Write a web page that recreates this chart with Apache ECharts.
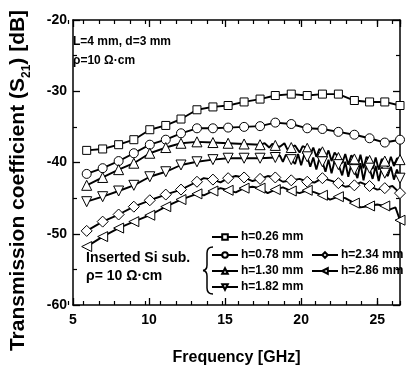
<!DOCTYPE html>
<html>
<head>
<meta charset="utf-8">
<script src="https://cdn.jsdelivr.net/npm/echarts@6/dist/echarts.min.js"></script>
<style>html,body{margin:0;padding:0;background:#fff}#c{width:407px;height:371px}</style>
</head>
<body>
<div id="c"></div>
<script>
// marker frequencies (GHz)
const freqs = [5.9, 6.95, 8.0, 9.0, 10.05, 11.1, 12.1, 13.15, 14.2, 15.2, 16.25, 17.3, 18.3, 19.35, 20.4, 21.4, 22.45, 23.5, 24.5, 25.5, 26.5];
const seriesNames = ['h=0.26 mm', 'h=0.78 mm', 'h=1.30 mm', 'h=1.82 mm', 'h=2.34 mm', 'h=2.86 mm'];
// S21 [dB] at marker frequencies
const h026 = [-38.3,-38.1,-37.5,-36.8,-35.4,-34.8,-33.9,-32.6,-32.2,-32.0,-31.5,-31.1,-30.6,-30.4,-30.6,-30.4,-30.4,-31.3,-31.5,-31.5,-32.0];
const h078 = [-41.6,-40.8,-39.8,-38.7,-37.5,-36.8,-35.9,-35.2,-35.2,-35.1,-35.0,-34.9,-34.4,-34.6,-35.2,-35.3,-35.7,-36.1,-36.6,-37.2,-36.8];
const h130 = [-43.2,-42.1,-41.0,-40.1,-38.7,-37.9,-37.3,-37.1,-37.2,-37.3,-37.4,-37.5,-37.6,-37.9,-38.0,-38.5,-39.3,-39.5,-39.7,-39.8,-39.6];
const h182 = [-45.5,-44.8,-44.0,-43.2,-42.0,-41.3,-40.35,-39.9,-39.6,-39.4,-39.4,-39.4,-39.3,-39.6,-39.2,-39.9,-40.3,-41.0,-40.8,-41.5,-42.2];
const h234 = [-49.6,-48.3,-47.3,-46.2,-45.3,-44.5,-43.8,-42.7,-42.4,-42.2,-42.1,-42.3,-42.1,-42.5,-42.7,-42.2,-42.9,-43.2,-43.3,-43.6,-44.3];
const h286 = [-51.8,-50.4,-49.2,-48.3,-47.4,-46.2,-45.2,-44.4,-44.0,-43.9,-43.6,-43.6,-43.8,-44.0,-43.9,-44.6,-44.8,-45.7,-46.1,-46.1,-48.1];
// measured ripple between markers [GHz, dB]
const r130 = [[17.6,-37.3],[17.9,-37.9],[18.1,-37.4],[18.6,-37.8],[18.9,-37.3],[19.1,-38.2],[19.6,-37.6],[19.9,-38.6],[20.1,-37.7],[20.6,-38.9],[20.8,-37.9],[21.0,-39.2],[21.2,-38.1],[21.6,-39.4],[21.8,-38.3],[22.0,-39.8],[22.2,-38.6],[22.7,-40.1],[22.9,-38.8],[23.1,-40.3],[23.3,-39.0],[23.7,-40.6],[23.9,-38.9],[24.1,-40.8],[24.3,-39.2],[24.7,-40.9],[24.9,-39.3],[25.1,-41.0],[25.3,-39.5],[25.7,-40.6],[25.9,-39.2],[26.1,-40.5],[26.3,-39.4]];
const r182 = [[18.6,-39.0],[18.8,-39.9],[19.0,-38.9],[19.6,-40.2],[19.8,-38.8],[20.0,-40.4],[20.2,-38.9],[20.6,-40.6],[20.8,-39.3],[21.0,-41.0],[21.2,-39.4],[21.6,-41.3],[21.8,-39.6],[22.0,-41.5],[22.2,-39.8],[22.7,-41.8],[22.9,-39.9],[23.1,-42.0],[23.3,-40.2],[23.7,-42.2],[23.9,-40.1],[24.1,-42.5],[24.3,-40.4],[24.7,-42.3],[24.9,-40.5],[25.1,-42.6],[25.3,-40.7],[25.7,-41.9],[25.9,-40.6],[26.1,-42.4],[26.3,-41.0]];
const r234 = [[13.6,-42.2],[14.7,-42.8],[15.7,-41.9],[16.8,-42.6],[17.8,-41.9],[18.8,-42.7],[19.9,-42.3],[20.9,-42.8],[21.9,-42.5],[22.9,-43.4],[23.9,-42.8],[25.0,-43.8],[26.0,-43.3]];
const r286 = [[13.6,-44.6],[14.7,-43.6],[15.7,-44.2],[16.8,-43.4],[17.8,-44.3],[18.8,-43.5],[19.9,-44.3],[20.9,-44.2],[21.9,-45.2],[22.9,-45.0],[23.9,-46.3],[25.0,-45.9],[25.8,-46.6],[26.2,-46.3]];
const xTicks = [5, 10, 15, 20, 25];
const yTicks = [-60, -50, -40, -30, -20];

const FONT = 'Liberation Sans, Arial, sans-serif';
const markerSet = new Set(freqs);
function build(vals, ripple) {
  const pts = freqs.map((f, i) => [f, vals[i]]).concat(ripple || []);
  pts.sort((a, b) => a[0] - b[0]);
  return pts;
}
const specs = [
  {v: h026, r: null, sym: 'rect', size: 8, rot: 0},
  {v: h078, r: null, sym: 'circle', size: 9, rot: 0},
  {v: h130, r: r130, sym: 'triangle', size: 10, rot: 0},
  {v: h182, r: r182, sym: 'triangle', size: 10, rot: 180},
  {v: h234, r: r234, sym: 'diamond', size: 11, rot: 0},
  {v: h286, r: r286, sym: 'triangle', size: 10, rot: 90}
];
const series = specs.map((s, i) => ({
  name: seriesNames[i],
  type: 'line',
  data: build(s.v, s.r),
  symbol: s.sym,
  symbolRotate: s.rot,
  symbolSize: (val) => markerSet.has(val[0]) ? s.size : 0,
  showAllSymbol: true,
  xAxisIndex: 0, yAxisIndex: 0,
  lineStyle: {color: '#000', width: 1.9},
  itemStyle: {color: '#fff', borderColor: '#000', borderWidth: 1},
  emphasis: {disabled: true},
  animation: false,
  z: 3 + i
}));

const axisLine = {show: true, lineStyle: {color: '#000', width: 1.5}};
const noLine = {show: false};
const majorTick = {inside: true, length: 7, lineStyle: {color: '#000', width: 1.3}};
const minorTickX = {inside: true, length: 4, lineStyle: {color: '#000', width: 1.2}};
const xMin = xTicks[0], xMax = 26.5;
const yMin = yTicks[0], yMax = yTicks[yTicks.length - 1];
const gridBox = {left: 68, top: 20, right: 7, bottom: 66, show: false};
const txt = (t, x, y, size) => ({type: 'text', x: x, y: y, style: {text: t, fill: '#000', fontFamily: FONT, fontWeight: 'bold', fontSize: size}});
const seg = (x1, y1, x2, y2) => ({type: 'line', shape: {x1, y1, x2, y2}, style: {stroke: '#000', lineWidth: 1.5}});
const bez = (x1, y1, cx, cy, x2, y2) => ({type: 'bezierCurve', shape: {x1, y1, x2, y2, cpx1: cx, cpy1: cy}, style: {stroke: '#000', lineWidth: 1.5, fill: null}});
const legendText = {color: '#000', fontFamily: FONT, fontWeight: 'bold', fontSize: 12, padding: [0, 0, 0, -2]};
const option = {
  animation: false,
  grid: [Object.assign({}, gridBox), Object.assign({}, gridBox)],
  xAxis: [
    {gridIndex: 0, type: 'value', position: 'bottom', min: xMin, max: xMax, interval: 5,
     axisLine, axisTick: majorTick,
     axisLabel: {showMaxLabel: false, color: '#000', fontFamily: FONT, fontWeight: 'bold', fontSize: 14, margin: 8},
     splitLine: {show: false},
     name: 'Frequency [GHz]', nameLocation: 'middle', nameGap: 45,
     nameTextStyle: {color: '#000', fontFamily: FONT, fontWeight: 'bold', fontSize: 16}},
    {gridIndex: 0, type: 'value', position: 'top', min: xMin, max: xMax, interval: 5,
     axisLine, axisTick: majorTick, axisLabel: {show: false}, splitLine: {show: false}},
    {gridIndex: 1, type: 'value', position: 'bottom', min: xMin, max: xMax, interval: 1,
     axisLine: noLine, axisTick: minorTickX, axisLabel: {show: false}, splitLine: {show: false}},
    {gridIndex: 1, type: 'value', position: 'top', min: xMin, max: xMax, interval: 1,
     axisLine: noLine, axisTick: minorTickX, axisLabel: {show: false}, splitLine: {show: false}}
  ],
  yAxis: [
    {gridIndex: 0, type: 'value', position: 'left', min: yMin, max: yMax, interval: 10,
     axisLine, axisTick: majorTick,
     minorTick: {show: true, splitNumber: 2, length: 4, lineStyle: {color: '#000', width: 1.2}},
     axisLabel: {color: '#000', fontFamily: FONT, fontWeight: 'bold', fontSize: 14, margin: 6},
     splitLine: {show: false},
     name: '{t|Transmission coefficient (S}{s|21}{t|) [dB]}', nameLocation: 'middle', nameGap: 44,
     nameTextStyle: {padding: [0, 36, 0, 0], rich: {
       t: {color: '#000', fontFamily: FONT, fontWeight: 'bold', fontSize: 21, verticalAlign: 'bottom', lineHeight: 25},
       s: {color: '#000', fontFamily: FONT, fontWeight: 'bold', fontSize: 12, verticalAlign: 'bottom', lineHeight: 25, padding: [0, 0, -4, 0]}
     }}},
    {gridIndex: 0, type: 'value', position: 'right', min: yMin, max: yMax, interval: 10,
     axisLine, axisTick: majorTick,
     minorTick: {show: true, splitNumber: 2, length: 4, lineStyle: {color: '#000', width: 1.2}},
     axisLabel: {show: false}, splitLine: {show: false}},
    {gridIndex: 1, type: 'value', position: 'left', min: yMin, max: yMax, show: false,
     axisLine: noLine, axisTick: {show: false}, axisLabel: {show: false}}
  ],
  legend: [
    {data: [seriesNames[0]], left: 211, top: 231, padding: 0, itemWidth: 26, itemHeight: 7, itemGap: 4,
     textStyle: legendText, selectedMode: false},
    {data: [seriesNames[1], seriesNames[2], seriesNames[3]], orient: 'vertical', left: 211, top: 249, padding: 0,
     itemWidth: 26, itemHeight: 7, itemGap: 4, textStyle: legendText, selectedMode: false},
    {data: [seriesNames[4], seriesNames[5]], orient: 'vertical', left: 311, top: 249, padding: 0,
     itemWidth: 26, itemHeight: 7, itemGap: 4, textStyle: legendText, selectedMode: false}
  ],
  graphic: [
    txt('L=4 mm, d=3 mm', 73, 36, 12),
    txt('ρ=10 Ω·cm', 73, 55, 12),
    txt('Inserted Si sub.', 86, 251, 14),
    txt('ρ= 10 Ω·cm', 86, 269, 14),
    bez(213, 247, 207, 247, 207, 253),
    seg(207, 253, 207, 265),
    bez(207, 265, 207, 270, 203, 270.5),
    bez(203, 270.5, 207, 271, 207, 276),
    seg(207, 276, 207, 288),
    bez(207, 288, 207, 294, 213, 294)
  ],
  series
};
const chart = echarts.init(document.getElementById('c'), null, {renderer: 'canvas'});
chart.setOption(option);
</script>
</body>
</html>
